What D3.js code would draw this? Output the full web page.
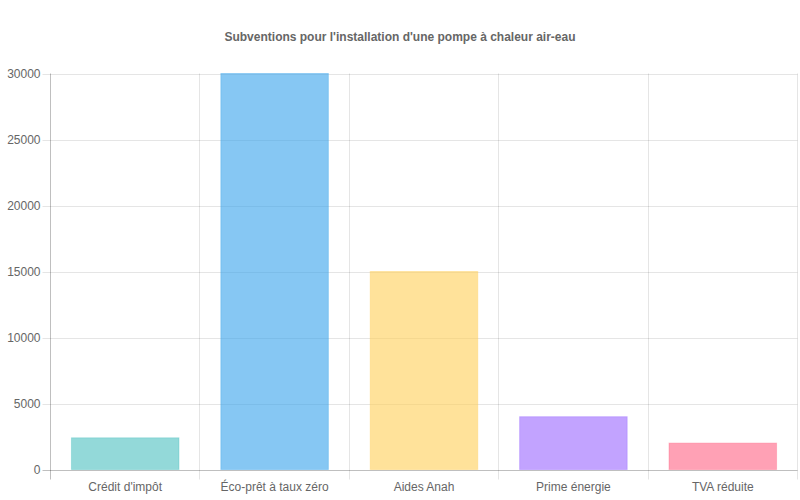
<!DOCTYPE html>
<html>
<head>
<meta charset="utf-8">
<script src="https://cdn.jsdelivr.net/npm/d3@7.9.0/dist/d3.min.js"></script>
<style>
  body { margin: 0; background: #fff; }
  svg { font-family: "Liberation Sans", Arial, sans-serif; }
</style>
</head>
<body>
<svg id="chart" width="800" height="500"></svg>
<script>
// data
const categories = ["Crédit d'impôt", "Éco-prêt à taux zéro", "Aides Anah", "Prime énergie", "TVA réduite"];
const amounts = [2400, 30000, 15000, 4000, 2000];
const barColors = ["75,192,192", "54,162,235", "255,206,86", "153,102,255", "255,99,132"];
const yTicks = [0, 5000, 10000, 15000, 20000, 25000, 30000];
const title = "Subventions pour l'installation d'une pompe à chaleur air-eau";

const svg = d3.select("#chart");
const plotLeft = 50.5, plotRight = 797.5, plotTop = 73.5, plotBottom = 469.5;

const x = d3.scaleBand().domain(categories).range([plotLeft, plotRight]);
const y = d3.scaleLinear().domain([0, 30000]).range([plotBottom, plotTop]);

// title
svg.append("text")
  .attr("x", 400).attr("y", 41)
  .attr("text-anchor", "middle")
  .attr("font-size", 12).attr("font-weight", "bold")
  .attr("fill", "#666")
  .text(title);

// horizontal grid + y ticks
svg.append("g").selectAll("line")
  .data(yTicks)
  .join("line")
  .attr("x1", plotLeft - 8).attr("x2", plotRight)
  .attr("y1", d => Math.round(y(d)) + 0.5).attr("y2", d => Math.round(y(d)) + 0.5)
  .attr("stroke", d => d === 0 ? "rgba(0,0,0,0.25)" : "rgba(0,0,0,0.1)");

svg.append("g").selectAll("text")
  .data(yTicks)
  .join("text")
  .attr("x", plotLeft - 10).attr("y", d => y(d) + 4)
  .attr("text-anchor", "end")
  .attr("font-size", 12).attr("fill", "#666")
  .text(d => d);

// vertical grid at band edges
const edges = categories.map(c => x(c)).concat([plotRight]);
svg.append("g").selectAll("line")
  .data(edges)
  .join("line")
  .attr("x1", d => Math.round(d - 0.5) + 0.5).attr("x2", d => Math.round(d - 0.5) + 0.5)
  .attr("y1", plotTop).attr("y2", plotBottom + 10)
  .attr("stroke", (d, i) => i === 0 ? "rgba(0,0,0,0.25)" : "rgba(0,0,0,0.1)");

// bars
const bw = x.bandwidth() * 0.72;
svg.append("g").selectAll("rect")
  .data(amounts)
  .join("rect")
  .attr("x", (d, i) => x(categories[i]) + (x.bandwidth() - bw) / 2)
  .attr("y", d => y(d))
  .attr("width", bw)
  .attr("height", d => plotBottom - y(d))
  .attr("fill", (d, i) => `rgba(${barColors[i]},0.6)`)
  .attr("stroke", (d, i) => `rgba(${barColors[i]},0.35)`)
  .attr("stroke-width", 1);

// x labels
svg.append("g").selectAll("text")
  .data(categories)
  .join("text")
  .attr("x", d => x(d) + x.bandwidth() / 2)
  .attr("y", 491)
  .attr("text-anchor", "middle")
  .attr("font-size", 12).attr("fill", "#666")
  .text(d => d);
</script>
</body>
</html>
